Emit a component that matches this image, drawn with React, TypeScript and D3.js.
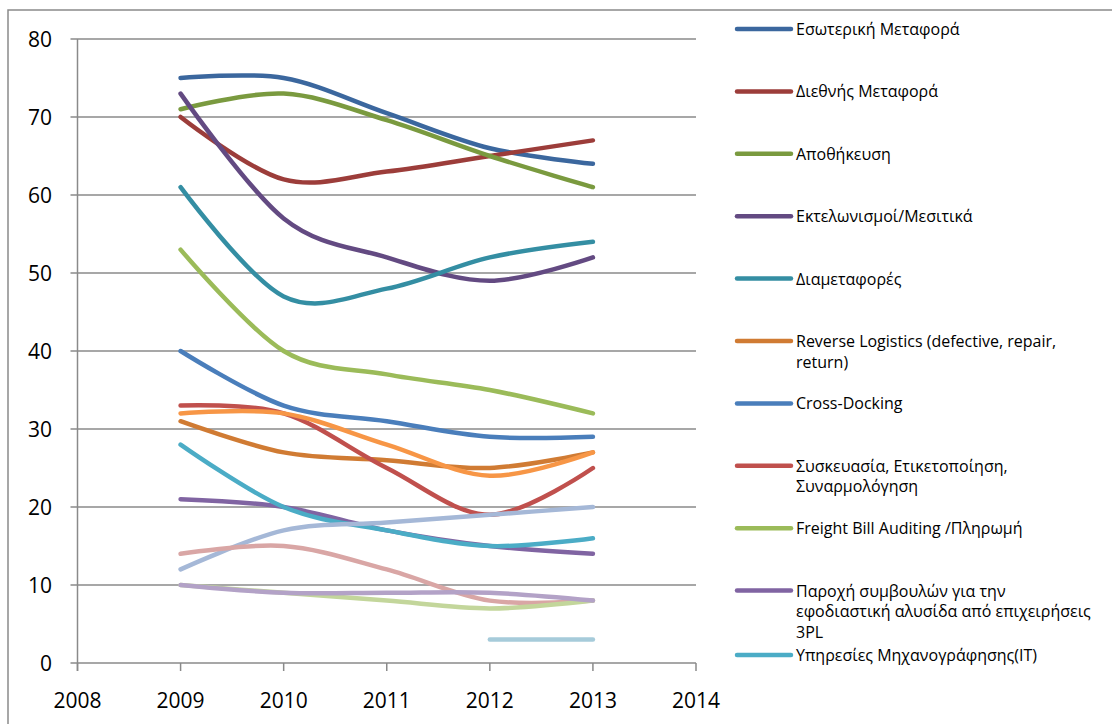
import { useMemo } from "react";
import * as d3 from "d3";

const WIDTH = 1112;
const HEIGHT = 724;
const PLOT = { left: 77.5, right: 696, top: 39, bottom: 663 };

const years = [2009, 2010, 2011, 2012, 2013];
const xTicks = [2008, 2009, 2010, 2011, 2012, 2013, 2014];
const yTicks = [0, 10, 20, 30, 40, 50, 60, 70, 80];

// legend shows only the first 11 series (the rest was cut off in the original)
const legendLabels = [
    ["Εσωτερική Μεταφορά"],
    ["Διεθνής Μεταφορά"],
    ["Αποθήκευση"],
    ["Εκτελωνισμοί/Μεσιτικά"],
    ["Διαμεταφορές"],
    ["Reverse Logistics (defective, repair,", "return)"],
    ["Cross-Docking"],
    ["Συσκευασία, Ετικετοποίηση,", "Συναρμολόγηση"],
    ["Freight Bill Auditing /Πληρωμή"],
    ["Παροχή συμβουλών για την", "εφοδιαστική αλυσίδα από επιχειρήσεις", "3PL"],
    ["Υπηρεσίες Μηχανογράφησης(IT)"],
];

const colors = [
    "#3b679e", "#9c3d3a", "#7a9a3f", "#634a82", "#348ea3", "#d07b33",
    "#4a7ebb", "#c0504d", "#9bbb59", "#8064a2", "#4bacc6", "#f79646",
    "#a5b8d7", "#d9a6a5", "#c3d69b", "#b3a2c7", "#a6cbda",
];

// values per series, one per year (null = no value)
const esoteriki = [75, 75, 70.5, 66, 64];
const diethnis = [70, 62, 63, 65, 67];
const apothikeusi = [71, 73, 69.6, 65, 61];
const ektelonismoi = [73, 57, 52, 49, 52];
const diametafores = [61, 47, 48, 52, 54];
const reverseLogistics = [31, 27, 26, 25, 27];
const crossDocking = [40, 33, 31, 29, 29];
const syskevasia = [33, 32, 25, 19, 25];
const freightBill = [53, 40, 37, 35, 32];
const paroxi = [21, 20, 17, 15, 14];
const ypiresiesIT = [28, 20, 17, 15, 16];
const series12 = [32, 32, 28, 24, 27];
const series13 = [12, 17, 18, 19, 20];
const series14 = [14, 15, 12, 8, 8];
const series15 = [10, 9, 8, 7, 8];
const series16 = [10, 9, 9, 9, 8];
const series17 = [null, null, null, 3, 3];

const allSeries = [
    esoteriki, diethnis, apothikeusi, ektelonismoi, diametafores, reverseLogistics,
    crossDocking, syskevasia, freightBill, paroxi, ypiresiesIT,
    series12, series13, series14, series15, series16, series17,
];

const FONT = "'Open Sans', 'Noto Sans', sans-serif";

export default function App() {
    const xScale = useMemo(
        () => d3.scaleLinear().domain([2008, 2014]).range([PLOT.left, PLOT.right]),
        []
    );
    const yScale = useMemo(
        () => d3.scaleLinear().domain([0, 80]).range([PLOT.bottom, PLOT.top]),
        []
    );

    // Excel style smoothed line
    const line = d3
        .line<[number, number]>()
        .x((d) => xScale(d[0]))
        .y((d) => yScale(d[1]))
        .curve(d3.curveCardinal.tension(0));

    const paths = allSeries.map((values, i) => {
        const pts = years
            .map((y, j) => [y, values[j]] as [number, number | null])
            .filter((p) => p[1] !== null) as [number, number][];
        return (
            <path
                key={i}
                d={line(pts) || ""}
                fill="none"
                stroke={colors[i]}
                strokeWidth={4.5}
                strokeLinecap="round"
                strokeLinejoin="round"
            />
        );
    });

    const grid = yTicks.map((t) => (
        <g key={t}>
            <line
                x1={PLOT.left - 7}
                x2={PLOT.right}
                y1={yScale(t)}
                y2={yScale(t)}
                stroke="#8a8a8a"
                strokeWidth={1.5}
            />
            <text
                x={52}
                y={yScale(t)}
                textAnchor="end"
                dominantBaseline="central"
                fontSize={21}
                fontFamily={FONT}
            >
                {t}
            </text>
        </g>
    ));

    const xAxis = xTicks.map((t) => (
        <g key={t}>
            <line
                x1={xScale(t)}
                x2={xScale(t)}
                y1={PLOT.bottom}
                y2={PLOT.bottom + 8}
                stroke="#8a8a8a"
                strokeWidth={1.5}
            />
            <text
                x={xScale(t)}
                y={700}
                textAnchor="middle"
                dominantBaseline="central"
                fontSize={21}
                fontFamily={FONT}
            >
                {t}
            </text>
        </g>
    ));

    const legend = legendLabels.map((lines, i) => {
        // last entry nudged down a bit so it does not touch "3PL"
        const y = 29 + i * 62.4 + (i === legendLabels.length - 1 ? 2 : 0);
        return (
            <g key={i}>
                <line
                    x1={737}
                    x2={791}
                    y1={y}
                    y2={y}
                    stroke={colors[i]}
                    strokeWidth={4.5}
                    strokeLinecap="round"
                />
                {lines.map((l, k) => (
                    <text
                        key={k}
                        x={796}
                        y={y + k * 20.5}
                        dominantBaseline="central"
                        fontSize={16}
                        fontFamily={FONT}
                    >
                        {l}
                    </text>
                ))}
            </g>
        );
    });

    return (
        <div style={{ position: "fixed", left: 0, top: 0 }}>
            <svg width={WIDTH} height={HEIGHT} style={{ display: "block", background: "#fff" }}>
                <rect
                    x={8}
                    y={10}
                    width={WIDTH}
                    height={HEIGHT}
                    fill="none"
                    stroke="#8a8a8a"
                    strokeWidth={1.5}
                />
                {grid}
                <line
                    x1={PLOT.left}
                    x2={PLOT.left}
                    y1={PLOT.top}
                    y2={PLOT.bottom + 8}
                    stroke="#8a8a8a"
                    strokeWidth={1.5}
                />
                {xAxis}
                {paths}
                {legend}
            </svg>
        </div>
    );
}
